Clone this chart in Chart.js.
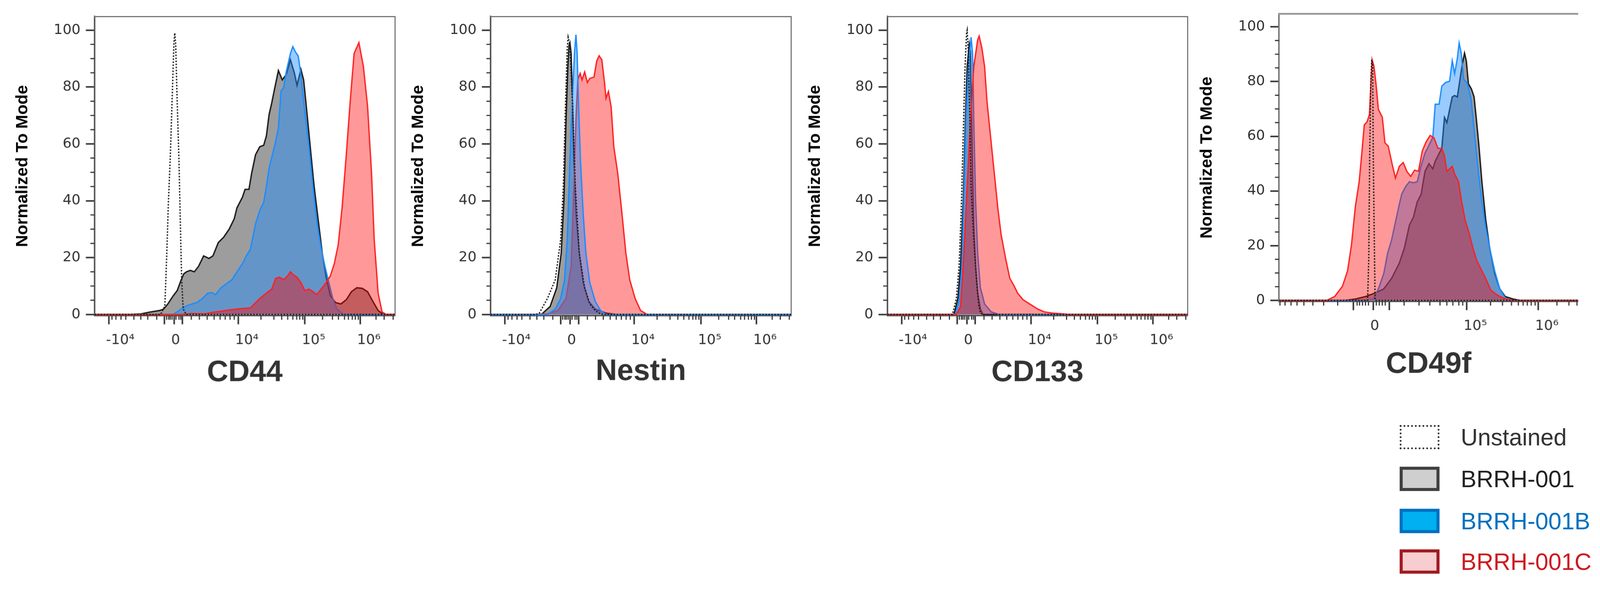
<!DOCTYPE html>
<html>
<head>
<meta charset="utf-8">
<script src="https://cdn.jsdelivr.net/npm/chart.js@4.4.1/dist/chart.umd.min.js"></script>
<style>
html, body { margin: 0; padding: 0; background: #fff; overflow: hidden; }
#page { position: absolute; left: 0; top: 0; width: 4217px; height: 1555px; transform-origin: 0 0; background: #fff; }
.panel { position: absolute; top: 0; }
#legend { position: absolute; left: 3689px; top: 0; font-family: 'Liberation Sans', Arial, sans-serif; font-size: 62px; }
.row { position: absolute; left: 0; height: 64px; display: flex; align-items: center; white-space: nowrap; }
.box { width: 105px; height: 64px; box-sizing: border-box; margin-right: 56px; flex: none; }
</style>
</head>
<body>
<div id="page">
<div class="panel" id="p0"><canvas id="c0"></canvas></div>
<div class="panel" id="p1"><canvas id="c1"></canvas></div>
<div class="panel" id="p2"><canvas id="c2"></canvas></div>
<div class="panel" id="p3"><canvas id="c3"></canvas></div>
<div id="legend"></div>
</div>
<script>
// histograms as [display channel (0-1000 across the axis), % of mode]
const seriesNames = ['Unstained', 'BRRH-001', 'BRRH-001B', 'BRRH-001C'];
const markers = ['CD44', 'Nestin', 'CD133', 'CD49f'];

const cd44Unstained = [[0,0],[220,0],[234,3],[240,20],[246,40],[252,55],[258,75],[264,95],[267,99],[270,95],[275,75],[281,54],[286,30],[290,12],[295,2],[305,0],[1000,0]];
const cd44Brrh001 = [[0,0],[111,0],[155,0.2],[182,0.8],[217,1.4],[230,1.9],[244,3.7],[262,6.6],[275,8.4],[288,12.1],[297,14.3],[306,15],[319,15.5],[332,15],[346,16.9],[363,20.6],[381,19.7],[394,20.6],[412,25.3],[430,27.2],[448,30],[465,33.7],[474,37.5],[492,41.2],[501,44],[514,44],[523,49.7],[536,56.2],[550,59],[563,59.5],[572,62.8],[581,70.3],[590,74.5],[598,78.7],[612,85.8],[625,82.5],[638,84.4],[652,89.6],[665,85],[674,80.6],[687,86.2],[696,82.5],[705,73.1],[718,59],[731,45],[745,32.8],[758,21.6],[771,13.1],[785,6.6],[802,4.2],[820,3.7],[838,5.2],[855,8],[873,9.4],[891,9.2],[909,8],[926,4.7],[944,1.4],[962,0],[1000,0]];
const cd44Brrh001B = [[0,0],[262,0],[288,1.9],[306,3],[324,3.7],[341,4.2],[359,5.6],[377,7.5],[390,7.7],[403,7],[421,9.4],[439,10.8],[457,12.2],[474,15],[492,17.8],[505,20.6],[519,23],[527,27.2],[536,31.9],[550,36.6],[563,39.4],[572,45],[581,51.5],[590,55.3],[603,60.9],[612,65.6],[621,78.7],[629,79.6],[638,85.3],[652,91.8],[660,94.2],[669,92.3],[678,90.9],[687,84.4],[700,71.3],[714,59],[727,45],[740,32.8],[754,23.4],[767,16.9],[780,11.2],[793,5.6],[807,1.9],[829,0],[1000,0]];
const cd44Brrh001C = [[0,0],[288,0],[324,0.3],[368,0.2],[394,0.8],[421,1.1],[448,1.6],[474,1.9],[519,2.3],[532,3.7],[550,5.6],[572,7.5],[590,8.9],[603,12.7],[616,13.1],[629,12.2],[643,13.6],[652,15],[660,14.1],[674,13.1],[687,11.2],[700,8.4],[714,8.9],[727,8],[740,7],[754,8.9],[771,11.2],[785,13.6],[798,17.8],[811,24.4],[824,37.5],[838,56.2],[851,74.9],[864,91.8],[880,95.6],[895,87.2],[909,73.1],[922,49.7],[931,26.2],[944,7.5],[957,0.9],[971,0],[1000,0]];

const nestinUnstained = [[0,0],[150,0],[162,0.5],[189,5.6],[215,12.2],[233,26.2],[242,45],[249,73.1],[255,93.7],[258,97.5],[264,94.7],[273,73.1],[282,45],[295,21.6],[313,9.4],[330,3.7],[348,1.4],[366,0.2],[380,0],[1000,0]];
const nestinBrrh001 = [[0,0],[160,0],[171,0.2],[198,2.8],[220,9.4],[235,21.6],[244,40.3],[251,68.4],[257,87.2],[261,94.7],[264,95.6],[268,91.8],[273,73.1],[277,54.3],[284,35.6],[295,21.6],[308,11.2],[326,4.7],[348,1.9],[384,0.5],[419,0],[1000,0]];
const nestinBrrh001B = [[0,0],[189,0],[215,1.9],[233,5.6],[246,12.2],[255,26.2],[264,54.3],[273,77.8],[279,91.8],[284,98.4],[288,91.8],[293,73.1],[299,54.3],[308,35.6],[317,21.6],[330,11.2],[348,4.7],[366,1.4],[384,0],[1000,0]];
const nestinBrrh001C = [[0,0],[136,0],[189,0.2],[224,1.4],[251,5.6],[268,16.9],[277,45],[284,68.4],[290,82.5],[298,84.8],[304,82.5],[313,85.3],[322,81.6],[330,83],[344,83.5],[353,89.1],[361,91],[370,89.6],[379,81.6],[384,76],[392,78.4],[401,73.1],[410,59],[423,49.7],[437,35.6],[450,21.6],[463,12.2],[481,5.6],[499,1.4],[521,0],[1000,0]];

const cd133Unstained = [[0,0],[217,0],[230,5.6],[239,16.9],[246,35.6],[253,63.7],[259,87.2],[264,99],[266,100],[270,91.8],[275,68.4],[279,45],[288,26.2],[297,12.2],[304,3.7],[310,0.5],[318,0],[1000,0]];
const cd133Brrh001 = [[0,0],[222,0],[235,5.6],[244,16.9],[253,40.3],[260,68.4],[266,87.2],[273,95.1],[277,92.3],[280,73.1],[284,49.7],[288,30.9],[294,16.9],[301,7.5],[310,1.9],[319,0],[1000,0]];
const cd133Brrh001B = [[0,0],[226,0],[239,4.7],[248,16.9],[255,40.3],[262,68.4],[270,87.2],[279,97.5],[284,91.8],[288,68.4],[294,40.3],[301,21.6],[310,9.4],[324,3.7],[346,0.9],[372,0],[1000,0]];
const cd133Brrh001C = [[0,0],[230,0],[244,2.8],[253,16.9],[266,45],[277,68.4],[288,87.2],[301,96.6],[306,97.9],[315,93.7],[324,87.2],[332,75],[341,65.6],[350,56.2],[359,46.9],[368,37.5],[379,28.1],[394,19.7],[408,12.7],[421,10.3],[434,7.5],[452,5.2],[474,3.7],[501,1.9],[523,0.9],[550,0.5],[585,0.2],[607,0],[1000,0]];

const cd49fUnstained = [[0,0],[296,0],[300,15.5],[303,52.9],[307,80.9],[310,88],[313,85.7],[315,52.9],[318,24.8],[321,0],[1000,0]];
const cd49fBrrh001 = [[0,0],[220,0],[255,0.5],[289,1.4],[324,2.8],[350,4.2],[376,8],[402,13.6],[419,19.2],[436,27.6],[449,30.4],[462,36],[475,38.8],[488,47.2],[501,50],[514,48.1],[522,50.9],[535,53.7],[544,55.6],[553,66.9],[561,65],[570,69.7],[579,74.4],[587,74.9],[596,74.4],[605,80.9],[613,86.6],[620,90.4],[626,87.6],[633,79.2],[643,77.3],[652,74.4],[659,66.9],[668,56.6],[678,43.4],[691,29.4],[704,19.2],[721,9.8],[738,4.2],[756,1.4],[782,0.5],[807,0],[1000,0]];
const cd49fBrrh001B = [[0,0],[281,0],[315,0.5],[332,4.2],[350,9.8],[363,17.3],[376,22],[389,28.6],[402,35.1],[410,38.8],[423,41.6],[436,43.4],[449,43],[462,43.4],[475,49.2],[488,53.9],[501,56.7],[514,59.6],[522,71.7],[535,71.7],[544,78.3],[557,79.7],[570,80.1],[579,87.6],[587,82.9],[596,88.5],[602,94.1],[609,90.4],[617,80.9],[630,79.2],[642,73.6],[652,62.4],[665,48.3],[678,36.1],[691,26.7],[704,19.2],[721,10.7],[738,4.2],[756,0.9],[773,0],[1000,0]];
const cd49fBrrh001C = [[0,0],[160,0],[186,1.4],[212,5.2],[229,10.8],[242,20.2],[255,34.2],[268,43.6],[276,53],[285,64.2],[294,65.2],[302,67.9],[311,88],[317,85.7],[324,79.2],[332,69.8],[345,67],[354,57.6],[365,56.4],[376,50.8],[389,44.7],[402,49],[415,50.4],[427,47.2],[440,45.3],[453,47.6],[466,47.2],[479,54.7],[492,58],[505,60.3],[518,59.4],[531,55.6],[544,55.6],[553,52.8],[561,47.2],[570,48.1],[579,49],[587,46.2],[600,43.4],[609,36.9],[622,29.4],[635,24.8],[648,19.2],[661,14.5],[674,11.7],[691,7.9],[708,3.7],[730,1.9],[756,0.5],[782,0],[1000,0]];

// axis ticks
const yMajorTicks = [0, 20, 40, 60, 80, 100];
const yMinorTicks = [5, 10, 15, 25, 30, 35, 45, 50, 55, 65, 70, 75, 85, 90, 95];
const logicleMajorTicks = [48, 233, 265, 293, 478, 700, 884];
const logicleMajorLabels = ['-10⁴', '', '0', '', '10⁴', '10⁵', '10⁶'];
const logicleMinorTicks = [58, 71, 88, 104, 131, 154, 177, 207, 240, 247, 252, 258, 271, 281, 287, 322, 349, 375, 398, 418, 435, 451, 465, 554, 597, 623, 643, 660, 673, 683, 693, 759, 792, 812, 832, 845, 858, 868, 878, 937, 964, 994];
const cd49fMajorTicks = [249, 315, 368, 627, 866];
const cd49fMajorLabels = ['', '0', '', '10⁵', '10⁶'];
const cd49fMinorTicks = [3, 20, 40, 60, 83, 113, 149, 196, 261, 269, 279, 289, 299, 325, 335, 345, 355, 418, 468, 504, 538, 561, 581, 601, 614, 707, 747, 777, 800, 816, 830, 843, 856, 929, 969, 996];

const seriesStyle = [
    { line: '#1c1c1c', fill: false, dash: [4, 4] },
    { line: '#141414', fill: 'rgba(135,135,135,0.82)', dash: [] },
    { line: '#1a8cff', fill: 'rgba(30,140,255,0.45)', dash: [] },
    { line: '#ff1f1f', fill: 'rgba(255,0,0,0.4)', dash: [] }
];
// lower order is drawn on top; in the Nestin panel the blue sits above the red
const drawOrder = [0, 3, 2, 1];
const nestinDrawOrder = [0, 3, 1, 2];

const legendStyle = [
    { box: 'border:5px dotted #333;background:#fff', text: '#333' },
    { box: 'border:8px solid #404040;background:#d0cfd0', text: '#222' },
    { box: 'border:8px solid #0070c0;background:#00b0f0', text: '#0070c0' },
    { box: 'border:8px solid #a01a20;background:#f7cdd0', text: '#cc1b22' }
];
const legendRowCenters = [1153, 1263, 1374, 1481];

// panel geometry in page pixels
const panels = [
    { data: [cd44Unstained, cd44Brrh001, cd44Brrh001B, cd44Brrh001C], order: drawOrder, left: 0, width: 1050, height: 1030, plotLeft: 249, plotRight: 1040, plotTop: 43.5, plotBottom: 832, yTitleX: 60, majors: logicleMajorTicks, labels: logicleMajorLabels, minors: logicleMinorTicks, rightBorder: true, axisColor: '#555' },
    { data: [nestinUnstained, nestinBrrh001, nestinBrrh001B, nestinBrrh001C], order: nestinDrawOrder, left: 1050, width: 1045, height: 1027, plotLeft: 1293, plotRight: 2085, plotTop: 43.5, plotBottom: 832, yTitleX: 1103, majors: logicleMajorTicks, labels: logicleMajorLabels, minors: logicleMinorTicks, rightBorder: true, axisColor: '#555' },
    { data: [cd133Unstained, cd133Brrh001, cd133Brrh001B, cd133Brrh001C], order: drawOrder, left: 2095, width: 1045, height: 1030, plotLeft: 2338.5, plotRight: 3130, plotTop: 43.5, plotBottom: 832, yTitleX: 2149, majors: logicleMajorTicks, labels: logicleMajorLabels, minors: logicleMinorTicks, rightBorder: true, axisColor: '#555' },
    { data: [cd49fUnstained, cd49fBrrh001, cd49fBrrh001B, cd49fBrrh001C], order: drawOrder, left: 3140, width: 1029, height: 1008, plotLeft: 3371, plotRight: 4159, plotTop: 31, plotBottom: 795, yTitleX: 3181, majors: cd49fMajorTicks, labels: cd49fMajorLabels, minors: cd49fMinorTicks, rightBorder: false, axisColor: '#777' }
];

// the window may be narrower in CSS px than the 4217 px picture, so fit the page to it
const pageScale = window.innerWidth / 4217;
document.getElementById('page').style.transform = 'scale(' + pageScale + ')';
const chartDpr = (window.devicePixelRatio || 1) * pageScale;

// short minor tick marks, placed through the chart's own scales
const minorTicksPlugin = {
    id: 'minorTicks',
    afterDraw(chart, args, opts) {
        const ctx = chart.ctx;
        const xs = chart.scales.x, ys = chart.scales.y;
        ctx.save();
        ctx.strokeStyle = opts.color;
        ctx.lineWidth = opts.width;
        ctx.beginPath();
        opts.x.forEach(v => {
            const px = xs.getPixelForValue(v);
            ctx.moveTo(px, xs.top);
            ctx.lineTo(px, xs.top + opts.length);
        });
        opts.y.forEach(v => {
            const py = ys.getPixelForValue(v);
            ctx.moveTo(ys.right, py);
            ctx.lineTo(ys.right - opts.length, py);
        });
        ctx.stroke();
        ctx.restore();
    }
};

const tickFont = { family: 'DejaVu Sans', size: 37 };

panels.forEach((p, k) => {
    const box = document.getElementById('p' + k);
    box.style.left = p.left + 'px';
    box.style.width = p.width + 'px';
    box.style.height = p.height + 'px';
    const canvas = document.getElementById('c' + k);
    canvas.style.width = p.width + 'px';
    canvas.style.height = p.height + 'px';
    canvas.width = p.width;
    canvas.height = p.height;

    const datasets = p.data.map((d, i) => ({
        label: seriesNames[i],
        data: d,
        xAxisID: 'x',
        yAxisID: 'y',
        borderColor: seriesStyle[i].line,
        backgroundColor: seriesStyle[i].fill || 'transparent',
        fill: seriesStyle[i].fill ? 'origin' : false,
        borderDash: seriesStyle[i].dash,
        borderWidth: 3.5,
        pointRadius: 0,
        tension: 0,
        order: p.order[i]
    }));

    const scales = {
        x: {
            type: 'linear', min: 0, max: 1000,
            afterBuildTicks: s => { s.ticks = p.majors.map(v => ({ value: v })); },
            afterFit: s => { s.height = p.height - p.plotBottom; },
            ticks: {
                autoSkip: false, maxRotation: 0, minRotation: 0, align: 'start', labelOffset: -8,
                padding: 20, font: tickFont, color: '#333',
                callback: (v, i) => p.labels[i]
            },
            grid: { drawOnChartArea: false, tickLength: 23, tickWidth: 4, tickColor: '#333' },
            border: { color: '#555', width: 4 },
            title: { display: true, text: markers[k], color: '#333', padding: { top: 0, bottom: 0 },
                font: { family: 'Liberation Sans', size: 78, weight: 'bold' } }
        },
        y: {
            type: 'linear', min: -0.4, max: 104.8,
            afterBuildTicks: s => { s.ticks = yMajorTicks.map(v => ({ value: v })); },
            afterFit: s => { s.width = p.plotLeft - p.left; },
            ticks: { padding: 14, font: tickFont, color: '#333' },
            grid: { drawOnChartArea: false, tickLength: 23, tickWidth: 4, tickColor: '#333' },
            border: { color: p.axisColor, width: 4 },
            title: { display: true, text: 'Normalized To Mode', color: '#000',
                padding: { top: p.yTitleX - p.left - 26.4, bottom: 0 },
                font: { family: 'Liberation Sans', size: 44, weight: 'bold' } }
        },
        xTop: {
            type: 'linear', position: 'top', min: 0, max: 1000,
            afterFit: s => { s.height = 0; },
            ticks: { display: false },
            grid: { display: false },
            border: { color: k === 3 ? '#999' : '#777', width: k === 3 ? 5 : 3 }
        }
    };
    if (p.rightBorder) {
        scales.yRight = {
            type: 'linear', position: 'right', min: -0.4, max: 104.8,
            afterFit: s => { s.width = 0; },
            ticks: { display: false },
            grid: { display: false },
            border: { color: '#777', width: 3 }
        };
    }

    new Chart(canvas, {
        type: 'line',
        data: { datasets: datasets },
        options: {
            responsive: false,
            animation: false,
            devicePixelRatio: chartDpr,
            layout: { padding: { top: p.plotTop, left: 0, bottom: 0, right: p.left + p.width - p.plotRight } },
            scales: scales,
            plugins: {
                legend: { display: false },
                tooltip: { enabled: false },
                minorTicks: { x: p.minors, y: yMinorTicks, length: 11, width: 3, color: '#333' }
            }
        },
        plugins: [minorTicksPlugin]
    });
});

// legend below the last panel
const legend = document.getElementById('legend');
seriesNames.forEach((name, i) => {
    const row = document.createElement('div');
    row.className = 'row';
    row.style.top = (legendRowCenters[i] - 32) + 'px';
    row.innerHTML = '<span class="box" style="' + legendStyle[i].box + '"></span>' +
        '<span style="color:' + legendStyle[i].text + '">' + name + '</span>';
    legend.appendChild(row);
});
</script>
</body>
</html>
